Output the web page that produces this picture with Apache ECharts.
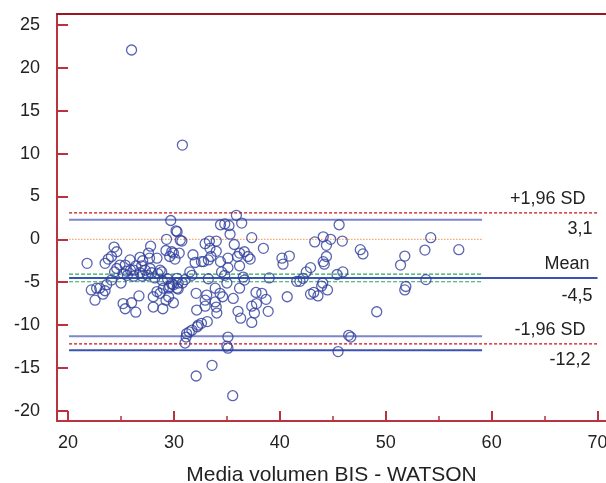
<!DOCTYPE html>
<html>
<head>
<meta charset="utf-8">
<script src="https://cdn.jsdelivr.net/npm/echarts@6/dist/echarts.min.js"></script>
<style>
  html, body { margin: 0; padding: 0; background: #fff; }
  #chart { width: 606px; height: 483px; }
</style>
</head>
<body>
<div id="chart"></div>
<script>
// Bland-Altman: mean of BIS and WATSON volumes vs. their difference
const meanVol = [
  26.0, 30.8,
  21.8, 22.2, 22.55, 22.7, 23.0, 23.3, 23.5, 23.65, 23.5, 23.8, 24.1, 24.35, 24.6,
  24.1, 24.4, 24.6, 24.9, 25.0, 25.2, 25.4, 25.5, 25.85, 25.9, 26.2, 26.4, 26.8,
  27.05, 26.8, 26.95, 27.3, 27.6, 27.7, 27.8, 27.75, 27.9, 28.4, 28.7, 28.85,
  25.2, 25.4, 26.0, 26.4, 26.7, 28.05, 28.05, 28.4, 28.7, 28.95, 29.25, 29.5, 29.95,
  29.0, 29.5, 29.95, 30.3, 30.4, 30.8, 30.4, 29.8, 31.05, 30.3, 29.6,
  29.3, 29.25, 29.6, 29.95, 29.8, 30.1, 30.6, 30.3, 30.5, 29.7, 30.2, 30.75,
  31.2, 31.45, 31.15, 31.05, 31.7, 32.2, 32.6, 32.3, 32.1, 32.15, 32.1, 31.5, 31.7,
  32.0, 31.8, 32.6, 32.95,
  34.4, 34.8, 35.2, 35.9, 36.4, 35.3, 37.35, 35.7, 33.35, 34.0, 33.4, 34.0, 38.45,
  32.8, 33.25, 33.5, 34.4, 35.1, 35.1, 36.0, 36.2, 36.65, 37.0, 37.2, 36.2, 34.5,
  34.8, 33.25, 35.0, 36.55, 36.65, 39.0, 41.6, 33.9, 34.35, 35.6, 36.2, 34.6, 33.9,
  34.0, 34.05, 33.1, 32.95, 32.95, 33.15, 37.75, 38.3, 38.7, 37.8, 37.35, 37.6,
  38.9, 37.35, 36.05, 36.3, 40.7, 35.1, 35.0, 35.1, 33.6, 35.55,
  45.6, 43.3, 44.1, 44.8, 44.4, 45.9, 47.6, 47.85, 40.9, 40.2, 40.3, 44.4, 44.1,
  44.2, 42.9, 42.5, 41.9, 42.2, 45.4, 45.95, 44.05, 43.95, 44.5, 42.9, 43.2, 43.6,
  49.15, 51.8, 51.4, 53.7, 54.25, 51.9, 51.8, 53.8, 56.9, 46.5, 46.7, 45.5,
  27.0, 27.5, 28.2, 26.2, 25.6, 28.9, 29.4, 28.5
];
const diffVol = [
  22.1, 11.0,
  -2.8, -5.9, -7.1, -5.7, -5.7, -6.4, -6.0, -5.3, -2.8, -2.3, -2.0, -0.9, -1.45,
  -4.75, -3.8, -3.4, -3.0, -5.1, -4.0, -3.0, -3.7, -2.4, -3.6, -3.6, -3.1, -2.1,
  -2.5, -3.9, -3.1, -3.6, -1.6, -2.2, -0.8, -3.4, -3.9, -2.2, -3.6, -3.8,
  -7.5, -8.1, -7.4, -8.5, -6.6, -7.9, -6.7, -6.1, -6.3, -8.1, -7.1, -6.7, -7.4,
  -5.7, -5.7, -5.3, -5.7, -5.1, -5.1, -5.8, -5.2, -4.7, -4.55, -5.5,
  0.0, -1.3, -2.0, -1.6, -1.45, -2.3, -0.1, 0.9, -1.6, 2.2, 1.0, -0.2,
  -11.0, -10.8, -11.4, -12.1, -10.6, -10.2, -9.8, -10.0, -15.95, -8.25, -6.3, -3.8, -4.2,
  -2.7, -1.8, -2.6, -0.5,
  1.7, 1.8, 1.6, 2.8, 1.9, 0.6, 0.2, -0.6, -0.2, -0.2, -1.05, -1.4, -1.05,
  -2.6, -2.4, -2.0, -2.6, -2.2, -3.3, -2.0, -1.6, -1.45, -2.0, -2.3, -3.1, -3.8,
  -4.2, -4.6, -5.1, -4.4, -4.75, -4.5, -4.9, -5.7, -6.3, -6.9, -5.7, -6.7, -7.3,
  -7.9, -8.6, -6.5, -7.1, -7.8, -9.6, -6.2, -6.3, -7.0, -7.5, -7.8, -8.6,
  -8.4, -9.7, -8.4, -9.2, -6.7, -11.4, -12.45, -12.7, -14.7, -18.25,
  1.7, -0.3, 0.3, 0.0, -0.7, -0.2, -1.2, -1.7, -1.95, -2.2, -2.9, -2.0, -2.6,
  -2.9, -3.3, -3.8, -4.9, -4.55, -4.1, -3.8, -5.1, -5.45, -5.9, -6.4, -6.2, -6.6,
  -8.45, -1.95, -3.0, -1.25, 0.2, -5.5, -5.9, -4.7, -1.2, -11.2, -11.4, -13.1,
  -4.3, -4.2, -4.5, -4.3, -4.2, -4.8, -4.6, -4.0
];

// Reference levels
const meanDiff = -4.5;
const upperLoA = 3.1;
const lowerLoA = -12.2;
const meanCI = [-4.05, -4.95];
const upperLoACI = [2.3];
const lowerLoACI = [-11.3, -12.95];
const equalityLine = 0;

// Horizontal extent of the reference lines (x units)
const lineFrom = 20.1;
const lineToLong = 70;
const lineToShort = 59.1;

// Axis ticks and labels
const xLabelValues = [20, 30, 40, 50, 60, 70];
const xMinorValues = [25, 35, 45, 55, 65];
const yLabelValues = [-20, -15, -10, -5, 0, 5, 10, 15, 20, 25];

const FONT = '"Liberation Sans", Arial, Helvetica, sans-serif';
const AXIS_RED = '#b8323f';

function hLine(y, x1, x2, lineStyle, z, endLabels) {
  return {
    type: 'line',
    data: [[x1, y], [x2, y]],
    symbol: 'none',
    silent: true,
    z: z,
    lineStyle: lineStyle,
    animation: false,
    markPoint: endLabels ? {
      symbol: 'circle', symbolSize: 0, silent: true, animation: false,
      data: endLabels.map(l => ({
        coord: [x2, y],
        label: {
          show: true, formatter: l.text, position: l.pos, align: 'right',
          offset: l.offset, distance: l.dist,
          color: '#222', fontSize: 18, fontFamily: FONT
        }
      }))
    } : undefined
  };
}

const chart = echarts.init(document.getElementById('chart'), null, { renderer: 'canvas' });

const scatterData = meanVol.map((x, i) => [x, diffVol[i]]);

const redDash = { color: '#c8101a', width: 1.2, type: [3, 2] };
const blueCI = { color: '#7c87c8', width: 2, type: 'solid' };
const blueMean = { color: '#3a52b0', width: 2, type: 'solid' };
const greenDash = { color: '#2aa55a', width: 1.2, type: [4, 2] };
const orangeDot = { color: '#f3a66e', width: 1.2, type: [1.5, 1.5] };

const fmt = v => v.toFixed(1).replace('.', ',');

const series = [
  hLine(equalityLine, lineFrom, lineToShort, orangeDot, 2),
  hLine(meanCI[0], lineFrom, lineToShort, greenDash, 2),
  hLine(meanCI[1], lineFrom, lineToShort, greenDash, 2),
  hLine(upperLoACI[0], lineFrom, lineToShort, blueCI, 2),
  hLine(lowerLoACI[0], lineFrom, lineToShort, blueCI, 2),
  hLine(lowerLoACI[1], lineFrom, lineToShort, blueMean, 2),
  hLine(upperLoA, lineFrom, lineToLong, redDash, 3, [
    { text: '+1,96 SD', pos: 'top', offset: [-12, -1], dist: 4 },
    { text: fmt(upperLoA), pos: 'bottom', offset: [-5, 0], dist: 7 }
  ]),
  hLine(meanDiff, lineFrom, lineToLong, blueMean, 3, [
    { text: 'Mean', pos: 'top', offset: [-8, -1], dist: 4 },
    { text: fmt(meanDiff), pos: 'bottom', offset: [-5, 0], dist: 9 }
  ]),
  hLine(lowerLoA, lineFrom, lineToLong, redDash, 3, [
    { text: '-1,96 SD', pos: 'top', offset: [-12, -1], dist: 4 },
    { text: fmt(lowerLoA), pos: 'bottom', offset: [-7, 0], dist: 7 }
  ]),
  {
    type: 'scatter',
    data: scatterData,
    symbol: 'circle',
    symbolSize: 10,
    z: 5,
    animation: false,
    itemStyle: { color: 'rgba(255,255,255,0)', borderColor: '#2f3e9c', borderWidth: 1.3 }
  }
];

chart.setOption({
  animation: false,
  backgroundColor: '#ffffff',
  grid: { left: 57, right: 0, top: 14, bottom: 62, containLabel: false, outerBoundsMode: 'none' },
  xAxis: [
    {
      type: 'value', min: 18.96, max: 70.8, position: 'bottom',
      name: 'Media volumen BIS - WATSON', nameLocation: 'middle', nameGap: 44,
      nameTextStyle: { color: '#222', fontSize: 21, fontFamily: FONT },
      axisLine: { show: true, onZero: false, lineStyle: { color: AXIS_RED, width: 2 } },
      axisTick: { show: true, inside: true, length: 10, customValues: xLabelValues,
                  lineStyle: { color: AXIS_RED, width: 2 } },
      axisLabel: { show: true, customValues: xLabelValues, margin: 13, hideOverlap: false,
                   color: '#222', fontSize: 18, fontFamily: FONT },
      splitLine: { show: false }
    },
    {
      type: 'value', min: 18.96, max: 70.8, position: 'bottom',
      axisLine: { show: false, onZero: false },
      axisTick: { show: true, inside: true, length: 5, customValues: xMinorValues,
                  lineStyle: { color: AXIS_RED, width: 1.5 } },
      axisLabel: { show: false },
      splitLine: { show: false }
    },
    {
      type: 'value', min: 18.96, max: 70.8, position: 'top',
      axisLine: { show: true, onZero: false, lineStyle: { color: '#9e1620', width: 2 } },
      axisTick: { show: false },
      axisLabel: { show: false },
      splitLine: { show: false }
    }
  ],
  yAxis: {
    type: 'value', min: -21.2, max: 26.3,
    axisLine: { show: true, onZero: false, lineStyle: { color: AXIS_RED, width: 2 } },
    axisTick: { show: true, inside: true, length: 11, customValues: yLabelValues,
                lineStyle: { color: AXIS_RED, width: 2 } },
    axisLabel: { show: true, customValues: yLabelValues, margin: 17,
                 color: '#222', fontSize: 18, fontFamily: FONT },
    splitLine: { show: false }
  },
  series: series
});
</script>
</body>
</html>
